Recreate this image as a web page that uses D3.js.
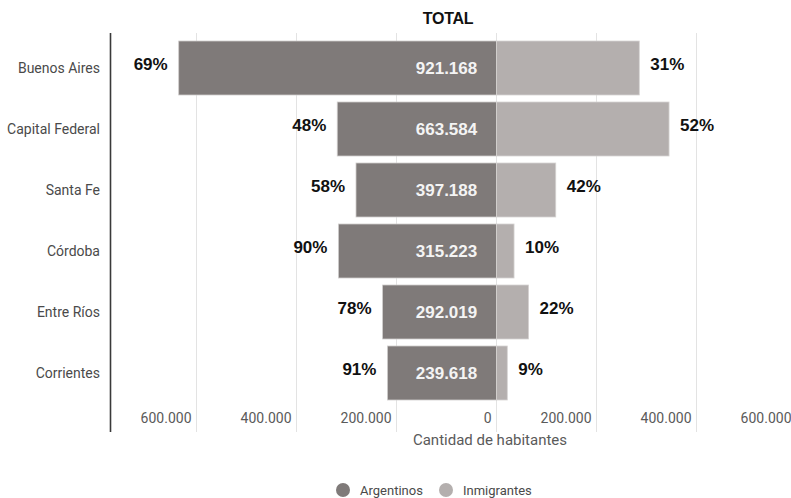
<!DOCTYPE html>
<html>
<head>
<meta charset="utf-8">
<script src="https://cdn.jsdelivr.net/npm/d3@7"></script>
<style>
  html, body { margin: 0; padding: 0; background: #fff; }
  svg { display: block; }
</style>
</head>
<body>
<svg id="chart" width="791" height="498"></svg>
<script>
// Provinces (rows, top to bottom)
const provincias = ["Buenos Aires", "Capital Federal", "Santa Fe", "Córdoba", "Entre Ríos", "Corrientes"];
// Habitantes por grupo (drawn left / right of zero)
const argentinos  = [635600, 318500, 281000, 316100, 227800, 218100];
const inmigrantes = [285600, 345100, 118500, 35100, 64200, 21600];
// Totals printed on the bars
const totales = [921168, 663584, 397188, 315223, 292019, 239618];
// Share labels
const pctArgentinos  = [69, 48, 58, 90, 78, 91];
const pctInmigrantes = [31, 52, 42, 10, 22, 9];
// Axis ticks
const ticks = [-600000, -400000, -200000, 0, 200000, 400000, 600000];
const series = ["Argentinos", "Inmigrantes"];

const colArg = "#7f7a79";
const colInm = "#b4afae";

const svg = d3.select("#chart");
const es = d3.formatLocale({ decimal: ",", thousands: ".", grouping: [3], currency: ["$", ""] });
const fmt = es.format(",");

const x = d3.scaleLinear().domain([-600000, 600000]).range([196.5, 796.5]);
const y = d3.scaleBand().domain(provincias).range([37.5, 403.5])
  .paddingInner(0.115).paddingOuter(0.0575);

const gridTop = 33, gridBottom = 432;

// grid lines
svg.append("g").selectAll("line").data(ticks).join("line")
  .attr("x1", d => x(d)).attr("x2", d => x(d))
  .attr("y1", gridTop).attr("y2", gridBottom)
  .attr("stroke", "#e3e3e3").attr("stroke-width", 1);

// tick labels
svg.append("g").selectAll("text").data(ticks).join("text")
  .attr("x", d => x(d) - 5).attr("y", 423)
  .attr("text-anchor", "end")
  .attr("font-family", "Roboto, sans-serif").attr("font-size", 14)
  .attr("fill", "#5a5a5a")
  .text(d => fmt(Math.abs(d)));

// axis title
svg.append("text")
  .attr("x", 490).attr("y", 445)
  .attr("text-anchor", "middle")
  .attr("font-family", "Roboto, sans-serif").attr("font-size", 15)
  .attr("fill", "#5a5a5a")
  .text("Cantidad de habitantes");

// left axis line
svg.append("line")
  .attr("x1", 110.5).attr("x2", 110.5).attr("y1", gridTop).attr("y2", gridBottom)
  .attr("stroke", "#3a3a3a").attr("stroke-width", 1.6);

// category labels
svg.append("g").selectAll("text").data(provincias).join("text")
  .attr("x", 100).attr("y", d => y(d) + y.bandwidth() / 2)
  .attr("dy", "0.35em")
  .attr("text-anchor", "end")
  .attr("font-family", "Roboto, sans-serif").attr("font-size", 14)
  .attr("fill", "#4a4a4a")
  .text(d => d);

const rows = provincias.map((p, i) => ({
  p, arg: argentinos[i], inm: inmigrantes[i], tot: totales[i],
  pa: pctArgentinos[i], pi: pctInmigrantes[i]
}));

// Argentinos bars (to the left)
svg.append("g").selectAll("rect").data(rows).join("rect")
  .attr("x", d => x(-d.arg)).attr("width", d => x(0) - x(-d.arg))
  .attr("y", d => y(d.p)).attr("height", y.bandwidth())
  .attr("fill", colArg).attr("stroke", "#cfcccb").attr("stroke-width", 0.8);

// Inmigrantes bars (to the right)
svg.append("g").selectAll("rect").data(rows).join("rect")
  .attr("x", x(0)).attr("width", d => x(d.inm) - x(0))
  .attr("y", d => y(d.p)).attr("height", y.bandwidth())
  .attr("fill", colInm).attr("stroke", "#d6d3d2").attr("stroke-width", 0.8);

// totals inside the bars
svg.append("g").selectAll("text").data(rows).join("text")
  .attr("x", x(-100000)).attr("y", d => y(d.p) + y.bandwidth() / 2)
  .attr("dy", "0.36em")
  .attr("text-anchor", "middle")
  .attr("font-family", "'Liberation Sans', Arial, sans-serif")
  .attr("font-weight", "bold").attr("font-size", 17)
  .attr("fill", "#f4f4f4")
  .text(d => fmt(d.tot));

// share labels left
svg.append("g").selectAll("text").data(rows).join("text")
  .attr("x", d => x(-d.arg) - 11).attr("y", d => y(d.p) + y.bandwidth() / 2)
  .attr("dy", "0.1em")
  .attr("text-anchor", "end")
  .attr("font-family", "'Liberation Sans', Arial, sans-serif")
  .attr("font-weight", "bold").attr("font-size", 17)
  .attr("fill", "#111")
  .text(d => d.pa + "%");

// share labels right
svg.append("g").selectAll("text").data(rows).join("text")
  .attr("x", d => x(d.inm) + 11).attr("y", d => y(d.p) + y.bandwidth() / 2)
  .attr("dy", "0.1em")
  .attr("text-anchor", "start")
  .attr("font-family", "'Liberation Sans', Arial, sans-serif")
  .attr("font-weight", "bold").attr("font-size", 17)
  .attr("fill", "#111")
  .text(d => d.pi + "%");

// title
svg.append("text")
  .attr("x", 448).attr("y", 24)
  .attr("text-anchor", "middle")
  .attr("font-family", "'Liberation Sans', Arial, sans-serif")
  .attr("font-weight", "bold").attr("font-size", 16)
  .attr("letter-spacing", -0.3)
  .attr("fill", "#111")
  .text("TOTAL");

// legend
const legX = [343, 446];
const legCol = [colArg, colInm];
const leg = svg.append("g").selectAll("g").data(series).join("g")
  .attr("transform", (d, i) => `translate(${legX[i]},490)`);
leg.append("circle").attr("r", 7).attr("fill", (d, i) => legCol[i]);
leg.append("text").attr("x", 17).attr("dy", "0.35em")
  .attr("font-family", "Roboto, sans-serif").attr("font-size", 13)
  .attr("fill", "#4a4a4a")
  .text(d => d);
</script>
</body>
</html>
